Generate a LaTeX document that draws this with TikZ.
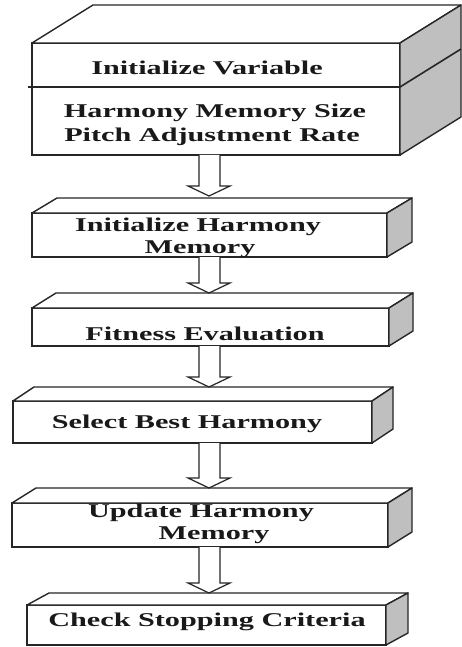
\documentclass[tikz,border=0pt]{standalone}
\usepackage{fontspec}
\setmainfont{Liberation Serif}
\newfontfamily\stepfont[FakeStretch=1.55]{Liberation Serif}
\usetikzlibrary{calc}
\tikzset{
  frontface/.style={draw=black!85, line width=1.6pt, fill=white, inner sep=0pt, outer sep=0pt, anchor=north west},
  topface/.style={draw=black!85, line width=1.4pt, fill=white, line join=round},
  sideface/.style={draw=black!85, line width=1.4pt, fill=black!25, line join=round},
  steplabel/.style={font=\stepfont\bfseries\fontsize{19.5}{21}\selectfont, text=black!90, inner sep=0pt},
  blockarrow/.style={draw=black!85, line width=1.2pt, fill=white, line join=miter},
}
% top and right faces of a box, built from the corners of its front face
\newcommand\boxfaces[3]{% name, dx, dy
  \draw[topface] (#1.north west) -- ++(#2,#3) -- ($(#1.north east)+(#2,#3)$) -- (#1.north east) -- cycle;
  \draw[sideface] (#1.north east) -- ($(#1.north east)+(#2,#3)$) -- ($(#1.south east)+(#2,#3)$) -- (#1.south east) -- cycle;
}
% hollow block arrow from the bottom of one box to the back top edge of the next
\newcommand\flowarrow[3]{% from, to, dy of the next box's depth
  \path let \p1=(#1.south), \p2=($(#2.north)+(0,#3)$) in
    [blockarrow] (199pt,\y1) -- (199pt,\y2+10pt) -- (188pt,\y2+10pt) -- (209pt,\y2)
      -- (230pt,\y2+10pt) -- (220pt,\y2+10pt) -- (220pt,\y1);
}
\begin{document}
\begin{tikzpicture}[x=1pt,y=-1pt]
\useasboundingbox (0,0) rectangle (461,647);
\fill[white] (0,0) rectangle (461,647);

% box 1: two-part block
\node[frontface, minimum width=368pt, minimum height=112pt] (b1) at (32,43) {};
\boxfaces{b1}{61}{-38}
\coordinate (d1) at (28,87);
\coordinate (d2) at (400,87);
\draw[line width=1.6pt, draw=black!85] (d1) -- (d2) -- ++(61,-38);

\node[frontface, minimum width=355pt, minimum height=44pt] (b2) at (32,213) {};
\boxfaces{b2}{25}{-15}
\node[frontface, minimum width=357pt, minimum height=38pt] (b3) at (32,308) {};
\boxfaces{b3}{24}{-15}
\node[frontface, minimum width=359pt, minimum height=42pt] (b4) at (13,401) {};
\boxfaces{b4}{21}{-14}
\node[frontface, minimum width=376pt, minimum height=44pt] (b5) at (12,503) {};
\boxfaces{b5}{24}{-15}
\node[frontface, minimum width=359pt, minimum height=40pt] (b6) at (27,605) {};
\boxfaces{b6}{22}{-12}

% labels
\node[steplabel] (t1) at (207,68) {Initialize Variable};
\node[steplabel] (t2) at (215,113) {Harmony Memory Size};
\node[steplabel] (t3) at (212,137) {Pitch Adjustment Rate};
\node[steplabel] (t4) at (198,227) {Initialize Harmony};
\node[steplabel] (t5) at (200,249) {Memory};
\node[steplabel] (t6) at (205,334) {Fitness Evaluation};
\node[steplabel] (t7) at (187,424) {Select Best Harmony};
\node[steplabel] (t8) at (201,513) {Update Harmony};
\node[steplabel] (t9) at (214,535) {Memory};
\node[steplabel] (t10) at (207,622) {Check Stopping Criteria};

% connectors
\flowarrow{b1}{b2}{-17}
\flowarrow{b2}{b3}{-15}
\flowarrow{b3}{b4}{-14}
\flowarrow{b4}{b5}{-15}
\flowarrow{b5}{b6}{-12}
\end{tikzpicture}
\end{document}
